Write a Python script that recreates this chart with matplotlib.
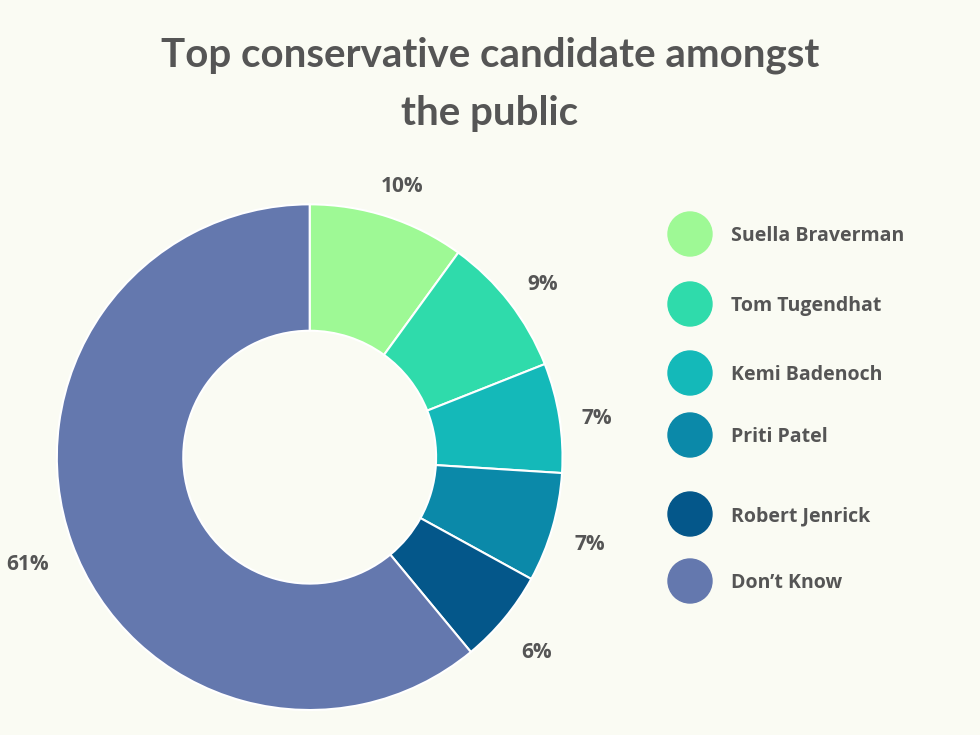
import matplotlib
matplotlib.use("Agg")
import matplotlib.pyplot as plt

names = ["Suella Braverman", "Tom Tugendhat", "Kemi Badenoch", "Priti Patel", "Robert Jenrick", "Don\u2019t Know"]
values = [10, 9, 7, 7, 6, 61]
labels = ["10%", "9%", "7%", "7%", "6%", "61%"]
colors = ["#9ef995", "#2fdbab", "#14b9b9", "#0b89a9", "#04578a", "#6478ae"]

bg = "#fafbf3"
fig = plt.figure(figsize=(9.8, 7.35), dpi=100, facecolor=bg)
ax = fig.add_axes([0.058, 0.034, 0.516, 0.688])
ax.set_facecolor(bg)
ax.pie(values, colors=colors, startangle=90, counterclock=False,
       wedgeprops=dict(width=0.5, edgecolor="white", linewidth=1.5))
ax.set_aspect("equal")
ax.set_xlim(-1, 1)
ax.set_ylim(-1, 1)

# label positions in pixel coords (from top-left)
label_px = [(402, 186), (543, 284), (597, 419), (590, 545), (537, 652), (28, 565)]
for (px, py), t in zip(label_px, labels):
    fig.text(px / 980, 1 - py / 735, t, ha="center", va="center",
             fontsize=15, fontweight="bold", color="#555555", family="Open Sans")

fig.text(0.5, 1 - 55 / 735, "Top conservative candidate amongst", ha="center", va="center",
         fontsize=29, color="#555555", family="Lato", fontweight="bold")
fig.text(0.5, 1 - 113 / 735, "the public", ha="center", va="center",
         fontsize=29, color="#555555", family="Lato", fontweight="bold")

leg_y = [234, 304, 373, 435, 514, 581]
for n, c, y in zip(names, colors, leg_y):
    fig.patches.append(matplotlib.patches.Ellipse((690 / 980, 1 - y / 735), 44 / 980, 44 / 735,
                                                  transform=fig.transFigure, color=c))
    fig.text(731 / 980, 1 - (y + 2) / 735, n, ha="left", va="center",
             fontsize=14, fontweight="bold", color="#555555", family="Open Sans")

fig.savefig("out.png", dpi=100, facecolor=bg)
